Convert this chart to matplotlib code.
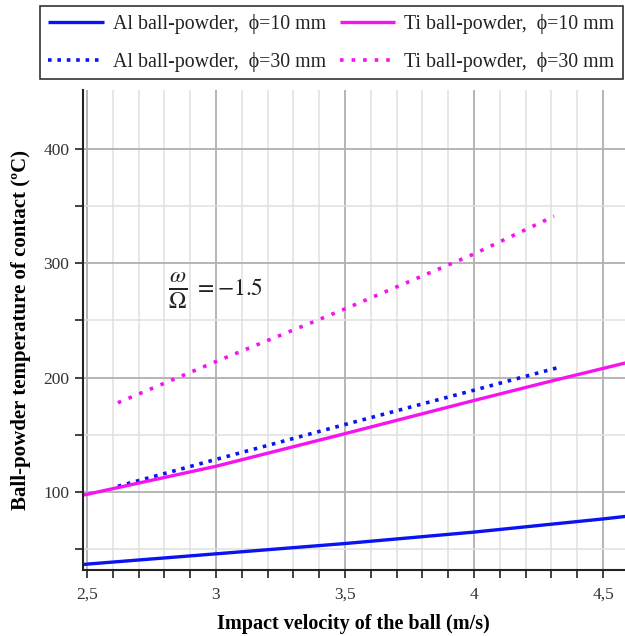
import matplotlib
matplotlib.use('Agg')
import matplotlib.pyplot as plt
from matplotlib.ticker import MultipleLocator, FixedLocator
import numpy as np

plt.rcParams['font.family'] = ['Liberation Serif', 'DejaVu Serif']
plt.rcParams['mathtext.fontset'] = 'stix'

# readings
v_al10 = [2.48, 2.5, 3.0, 3.5, 4.0, 4.5, 4.6]
t_al10 = [36.5, 37, 46, 55, 65, 76.5, 79]
v_ti10 = [2.48, 2.5, 3.0, 3.5, 4.0, 4.3, 4.6]
t_ti10 = [97, 98, 122.5, 151, 180, 197, 213.5]
v_al30 = [2.62, 3.0, 3.5, 4.0, 4.33]
t_al30 = [105, 128.5, 159, 189, 209]
v_ti30 = [2.62, 3.0, 3.5, 4.0, 4.31]
t_ti30 = [178, 214, 260, 308, 341]

xticks = [2.5, 3.0, 3.5, 4.0, 4.5]
xticklabels = ['2,5', '3', '3,5', '4', '4,5']
yticks = [100, 200, 300, 400]
names = ['Al ball-powder,  ϕ=10 mm', 'Al ball-powder,  ϕ=30 mm',
         'Ti ball-powder,  ϕ=10 mm', 'Ti ball-powder,  ϕ=30 mm']

blue = '#0a14f0'
pink = '#f514f0'

fig = plt.figure(figsize=(6.25, 6.36), dpi=100)
ax = fig.add_axes([0.132, 0.104, 0.868, 0.754])

l1, = ax.plot(v_al10, t_al10, color=blue, lw=2.4, solid_capstyle='butt')
l3, = ax.plot(v_al30, t_al30, color=blue, lw=2.6, linestyle=(0, (1.0, 1.6)))
l2, = ax.plot(v_ti10, t_ti10, color=pink, lw=2.4, solid_capstyle='butt')
l4, = ax.plot(v_ti30, t_ti30, color=pink, lw=2.6, linestyle=(0, (1.0, 2.2)))

ax.set_xlim(2.483, 4.585)
ax.set_ylim(32, 451)

ax.set_xticks(xticks)
ax.set_xticklabels(xticklabels)
ax.xaxis.set_minor_locator(MultipleLocator(0.1))
ax.set_yticks(yticks)
ax.yaxis.set_minor_locator(FixedLocator([50, 150, 250, 350]))

ax.grid(which='major', color='#b0b0b0', lw=1.3)
ax.grid(which='minor', color='#e0e0e0', lw=1.1)
ax.set_axisbelow(True)

for s in ['top', 'right']:
    ax.spines[s].set_visible(False)
ax.spines['left'].set_linewidth(1.5)
ax.spines['bottom'].set_linewidth(1.5)
ax.spines['left'].set_color('#222222')
ax.spines['bottom'].set_color('#222222')

ax.tick_params(which='both', direction='out', length=6, width=1.2, color='#222222',
               labelsize=12.5, labelcolor='#333333')
ax.tick_params(axis='x', which='major', pad=6)

ax.set_xlabel('Impact velocity of the ball (m/s)', fontsize=14.5, fontweight='bold', labelpad=8)
ax.set_ylabel('Ball-powder temperature of contact (ºC)', fontsize=15, fontweight='bold', labelpad=9)

# omega / Omega annotation
ax.text(2.852, 276, r'$\frac{\omega}{\Omega}$', fontsize=24, va='center', ha='center', color='#222222')
ax.text(2.915, 277, r'$= -1.5$', fontsize=17, va='center', ha='left', color='#222222')

leg = fig.legend([l1, l3, l2, l4], names,
                 ncol=2, loc='upper right', bbox_to_anchor=(0.996, 0.991),
                 fontsize=14.3, frameon=True, fancybox=False, handlelength=2.8,
                 columnspacing=0.7, handletextpad=0.45, borderpad=0.4, labelspacing=0.9,
                 borderaxespad=0.0)
leg.get_frame().set_edgecolor('black')
leg.get_frame().set_linewidth(1.2)
for t in leg.get_texts():
    t.set_family(['Liberation Serif', 'DejaVu Serif'])
    t.set_color('#222222')

fig.savefig('out.png', dpi=100)
